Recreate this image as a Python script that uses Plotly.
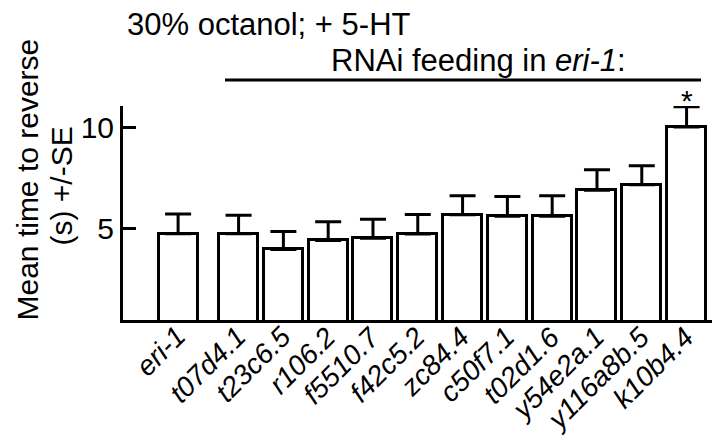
import plotly.graph_objects as go

categories = ["eri-1", "t07d4.1", "t23c6.5", "r106.2", "f5510.7", "f42c5.2",
              "zc84.4", "c50f7.1", "t02d1.6", "y54e2a.1", "y116a8b.5", "k10b4.4"]
means = [4.72, 4.72, 3.94, 4.39, 4.50, 4.70, 5.66, 5.59, 5.58, 6.87, 7.14, 10.0]
se = [0.97, 0.91, 0.89, 0.92, 0.94, 0.97, 0.94, 0.97, 1.02, 1.02, 0.94, 1.0]
significant = [False] * 11 + [True]
y_ticks = [5, 10]

# x positions: control bar separated from the RNAi group
xpos = [0.0] + [1.35 + i for i in range(len(categories) - 1)]

FONT = "Liberation Sans, Arial, Helvetica, sans-serif"
W, H = 720, 440
L, R, T, B = 115, 2, 98, 128
pw, ph = W - L - R, H - T - B

def px(x):
    return (x - L) / pw

def py(y):
    return (H - B - y) / ph

fig = go.Figure()
fig.add_trace(go.Bar(
    x=xpos, y=means, width=0.87,
    marker=dict(color="white", line=dict(color="black", width=3)),
    error_y=dict(type="data", symmetric=False, array=se, arrayminus=[0] * len(se),
                 color="black", thickness=3, width=13),
    showlegend=False,
))

annotations = []
for xp, m, e, s in zip(xpos, means, se, significant):
    if s:
        annotations.append(dict(x=xp, y=m + e, xref="x", yref="y", text="*",
                                showarrow=False, yanchor="bottom", yshift=-12,
                                font=dict(family=FONT, size=30, color="black")))

# rotated category labels under the bars
for xp, c in zip(xpos, categories):
    annotations.append(dict(x=xp, y=0, xref="x", yref="paper", text="<i>%s</i>" % c,
                            textangle=-45, showarrow=False,
                            xanchor="right", yanchor="top", xshift=16, yshift=2,
                            font=dict(family=FONT, size=28, color="black")))

annotations += [
    dict(x=px(117), y=py(16), xref="paper", yref="paper", text="30% octanol; + 5-HT",
         showarrow=False, xanchor="left", yanchor="middle",
         font=dict(family=FONT, size=31, color="black")),
    dict(x=px(470), y=py(53), xref="paper", yref="paper",
         text="RNAi feeding in <i>eri-1</i>:",
         showarrow=False, xanchor="center", yanchor="middle",
         font=dict(family=FONT, size=31, color="black")),
    dict(x=px(0), y=py(172), xref="paper", yref="paper",
         text="Mean time to reverse", textangle=-90,
         showarrow=False, xanchor="left", yanchor="middle",
         font=dict(family=FONT, size=30, color="black")),
    dict(x=px(34), y=py(178), xref="paper", yref="paper",
         text="(s) +/-SE", textangle=-90,
         showarrow=False, xanchor="left", yanchor="middle",
         font=dict(family=FONT, size=30, color="black")),
]

fig.update_layout(
    width=W, height=H,
    margin=dict(l=L, r=R, t=T, b=B, autoexpand=False),
    paper_bgcolor="white", plot_bgcolor="white",
    font=dict(family=FONT, size=30, color="black"),
    annotations=annotations,
    shapes=[dict(type="line", xref="paper", yref="paper",
                 x0=px(217), x1=px(693), y0=py(72), y1=py(72),
                 line=dict(color="black", width=3))],
    bargap=0,
)
fig.update_xaxes(
    range=[-1.23, 12.23], tickmode="array", tickvals=xpos, showticklabels=False,
    automargin=False,
    showline=True, linecolor="black", linewidth=3, ticks="",
    showgrid=False, zeroline=False,
)
fig.update_yaxes(
    range=[0.45, 11.04], tickvals=y_ticks, automargin=False,
    showline=True, linecolor="black", linewidth=3,
    ticks="inside", ticklen=13, tickwidth=3, tickcolor="black",
    showgrid=False, zeroline=False,
    tickfont=dict(family=FONT, size=30, color="black"),
)

fig.write_html("out.html")
